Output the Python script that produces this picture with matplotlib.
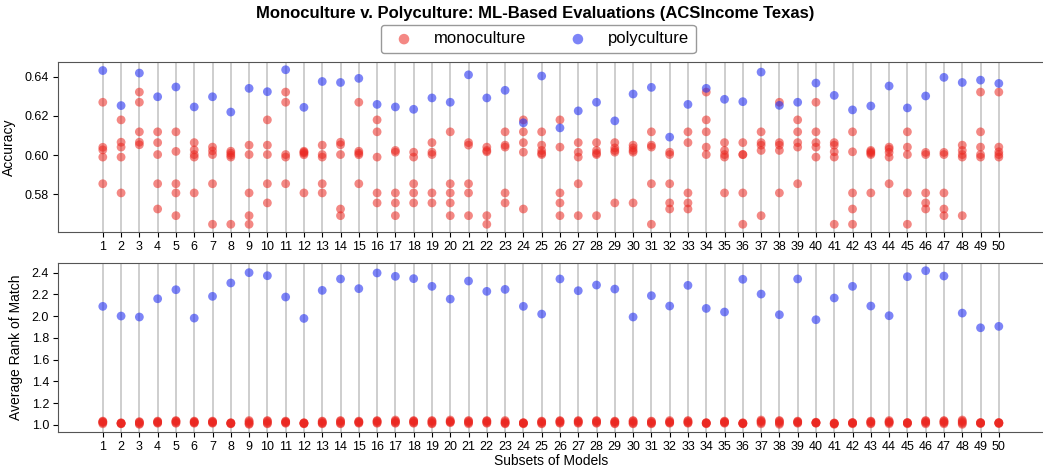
import matplotlib.pyplot as plt
import numpy as np
from matplotlib.ticker import MultipleLocator

plt.rcParams['font.family'] = ['Liberation Sans', 'DejaVu Sans']

subsets = list(range(1, 51))

# accuracy of each individual model (monoculture) per subset
mono_acc = [
    [0.627, 0.604, 0.6027, 0.599, 0.5854],
    [0.618, 0.6066, 0.6041, 0.599, 0.5807],
    [0.6322, 0.627, 0.6119, 0.6066, 0.6053],
    [0.6119, 0.6064, 0.6003, 0.5854, 0.5725],
    [0.6119, 0.6019, 0.5854, 0.5807, 0.5691],
    [0.6064, 0.6027, 0.6003, 0.599, 0.5807],
    [0.6041, 0.6022, 0.6003, 0.5854, 0.5647],
    [0.602, 0.601, 0.600, 0.599, 0.5647],
    [0.6051, 0.6003, 0.5807, 0.5691, 0.5647],
    [0.618, 0.6051, 0.6003, 0.5854, 0.5756],
    [0.6322, 0.627, 0.6003, 0.599, 0.5854],
    [0.602, 0.6015, 0.601, 0.6002, 0.5807],
    [0.6051, 0.6003, 0.599, 0.5854, 0.5807],
    [0.6066, 0.6053, 0.6003, 0.5725, 0.5691],
    [0.627, 0.602, 0.601, 0.6002, 0.5854],
    [0.618, 0.6119, 0.599, 0.5807, 0.5756],
    [0.6024, 0.6015, 0.5807, 0.5756, 0.5691],
    [0.6015, 0.599, 0.5854, 0.5807, 0.5756],
    [0.6064, 0.6015, 0.6003, 0.5807, 0.5756],
    [0.6119, 0.5854, 0.5807, 0.5756, 0.5691],
    [0.6064, 0.6051, 0.5854, 0.5807, 0.5691],
    [0.6041, 0.6024, 0.6017, 0.5691, 0.5647],
    [0.6119, 0.6051, 0.6041, 0.5807, 0.5756],
    [0.618, 0.6119, 0.6064, 0.6015, 0.5725],
    [0.6119, 0.6051, 0.6024, 0.601, 0.6003],
    [0.618, 0.6041, 0.5807, 0.5756, 0.5691],
    [0.6064, 0.6015, 0.599, 0.5854, 0.5691],
    [0.6064, 0.6024, 0.601, 0.6003, 0.5691],
    [0.6064, 0.6037, 0.6024, 0.6015, 0.5756],
    [0.6051, 0.6037, 0.6024, 0.6015, 0.5756],
    [0.6119, 0.6051, 0.6041, 0.5854, 0.5647],
    [0.6015, 0.6003, 0.5854, 0.5756, 0.5725],
    [0.6119, 0.6064, 0.5807, 0.5756, 0.5725],
    [0.6322, 0.618, 0.6119, 0.6041, 0.6003],
    [0.6064, 0.6024, 0.6003, 0.599, 0.5807],
    [0.6064, 0.6003, 0.6003, 0.5807, 0.5647],
    [0.6119, 0.6064, 0.6051, 0.6024, 0.5691],
    [0.627, 0.6064, 0.6051, 0.6024, 0.5807],
    [0.618, 0.6119, 0.6064, 0.6041, 0.5854],
    [0.627, 0.6119, 0.6064, 0.6041, 0.599],
    [0.6064, 0.6051, 0.6017, 0.599, 0.5647],
    [0.6119, 0.6017, 0.5807, 0.5725, 0.5647],
    [0.6024, 0.6017, 0.601, 0.6003, 0.5807],
    [0.6041, 0.6031, 0.6014, 0.599, 0.5854],
    [0.6119, 0.6041, 0.6003, 0.5807, 0.5647],
    [0.6014, 0.6003, 0.5807, 0.5756, 0.5725],
    [0.6014, 0.6003, 0.5807, 0.5725, 0.5691],
    [0.6051, 0.6024, 0.6003, 0.599, 0.5691],
    [0.6322, 0.6119, 0.6041, 0.6003, 0.599],
    [0.6322, 0.6041, 0.6017, 0.6003, 0.599],
]

# accuracy of the polyculture per subset
poly_acc = [0.6432, 0.6253, 0.6419, 0.6298, 0.6348, 0.6246, 0.6298, 0.6220, 0.6341, 0.6324,
            0.6436, 0.6244, 0.6376, 0.6371, 0.6392, 0.6259, 0.6246, 0.6234, 0.6292, 0.6270,
            0.6410, 0.6292, 0.6331, 0.6165, 0.6404, 0.6139, 0.6226, 0.6270, 0.6175, 0.6312,
            0.6346, 0.6092, 0.6259, 0.6341, 0.6285, 0.6273, 0.6424, 0.6254, 0.6270, 0.6368,
            0.6305, 0.6231, 0.6251, 0.6353, 0.6241, 0.6302, 0.6397, 0.6371, 0.6383, 0.6366]

# average rank of match, monoculture
mono_rank = [
    [1.01, 1.02, 1.025, 1.03, 1.035],
    [1.01, 1.012, 1.015, 1.015, 1.02],
    [1.005, 1.01, 1.02, 1.025, 1.03],
    [1.015, 1.02, 1.025, 1.03, 1.035],
    [1.015, 1.02, 1.03, 1.035, 1.04],
    [1.015, 1.02, 1.025, 1.03, 1.035],
    [1.015, 1.02, 1.025, 1.03, 1.035],
    [1.01, 1.012, 1.015, 1.018, 1.02],
    [1.005, 1.01, 1.02, 1.03, 1.04],
    [1.01, 1.015, 1.025, 1.035, 1.04],
    [1.015, 1.02, 1.025, 1.03, 1.035],
    [1.01, 1.012, 1.015, 1.018, 1.02],
    [1.01, 1.015, 1.02, 1.03, 1.035],
    [1.01, 1.015, 1.025, 1.035, 1.04],
    [1.015, 1.02, 1.025, 1.03, 1.035],
    [1.015, 1.02, 1.03, 1.035, 1.04],
    [1.015, 1.02, 1.03, 1.035, 1.045],
    [1.015, 1.02, 1.03, 1.035, 1.04],
    [1.01, 1.015, 1.025, 1.035, 1.04],
    [1.02, 1.025, 1.03, 1.035, 1.045],
    [1.01, 1.02, 1.025, 1.035, 1.04],
    [1.015, 1.02, 1.03, 1.035, 1.04],
    [1.01, 1.015, 1.02, 1.03, 1.04],
    [1.01, 1.015, 1.015, 1.02, 1.02],
    [1.01, 1.015, 1.025, 1.03, 1.035],
    [1.015, 1.02, 1.03, 1.035, 1.04],
    [1.015, 1.02, 1.03, 1.035, 1.04],
    [1.015, 1.02, 1.03, 1.035, 1.04],
    [1.01, 1.015, 1.025, 1.03, 1.035],
    [1.01, 1.015, 1.025, 1.035, 1.04],
    [1.01, 1.015, 1.02, 1.03, 1.035],
    [1.015, 1.02, 1.025, 1.03, 1.04],
    [1.015, 1.02, 1.025, 1.035, 1.04],
    [1.01, 1.015, 1.015, 1.02, 1.02],
    [1.015, 1.02, 1.025, 1.03, 1.035],
    [1.01, 1.012, 1.015, 1.015, 1.02],
    [1.01, 1.02, 1.03, 1.035, 1.045],
    [1.005, 1.015, 1.025, 1.035, 1.04],
    [1.015, 1.02, 1.025, 1.03, 1.035],
    [1.015, 1.018, 1.02, 1.022, 1.025],
    [1.005, 1.01, 1.012, 1.015, 1.018],
    [1.01, 1.015, 1.018, 1.02, 1.022],
    [1.01, 1.015, 1.025, 1.03, 1.035],
    [1.01, 1.02, 1.025, 1.03, 1.04],
    [1.01, 1.015, 1.018, 1.02, 1.022],
    [1.01, 1.02, 1.025, 1.035, 1.04],
    [1.01, 1.02, 1.025, 1.035, 1.04],
    [1.005, 1.015, 1.025, 1.035, 1.045],
    [1.012, 1.015, 1.018, 1.02, 1.022],
    [1.012, 1.015, 1.018, 1.02, 1.022],
]

# average rank of match, polyculture
poly_rank = [2.090, 2.001, 1.992, 2.160, 2.243, 1.982, 2.182, 2.305, 2.400, 2.372,
             2.176, 1.979, 2.237, 2.342, 2.253, 2.397, 2.366, 2.345, 2.274, 2.157,
             2.323, 2.228, 2.246, 2.090, 2.019, 2.342, 2.234, 2.286, 2.249, 1.992,
             2.188, 2.093, 2.283, 2.071, 2.038, 2.339, 2.203, 2.013, 2.342, 1.967,
             2.167, 2.274, 2.093, 2.004, 2.363, 2.418, 2.369, 2.028, 1.893, 1.906]

red = (0.92, 0.15, 0.12)
blue = (0.15, 0.2, 0.95)

fig = plt.figure(figsize=(10.43, 4.67), dpi=100)
ax1 = fig.add_axes([0.0556, 0.5032, 0.945, 0.364])
ax2 = fig.add_axes([0.0556, 0.0749, 0.945, 0.3619])

for ax, mono, poly, ylab in [(ax1, mono_acc, poly_acc, "Accuracy"),
                             (ax2, mono_rank, poly_rank, "Average Rank of Match")]:
    for x in subsets:
        ax.axvline(x, color='gray', alpha=0.45, lw=1.2, zorder=0)
    mx = np.repeat(subsets, [len(m) for m in mono])
    my = np.concatenate(mono)
    ax.scatter(mx, my, s=40, color=red, alpha=0.55, edgecolors='none', label="monoculture", zorder=2)
    ax.scatter(subsets, poly, s=40, color=blue, alpha=0.6, edgecolors='none', label="polyculture", zorder=3)
    ax.set_xticks(subsets)
    ax.set_xticklabels([str(s) for s in subsets])
    ax.tick_params(labelsize=9, pad=3)
    ax.set_ylabel(ylab, fontsize=10, labelpad=6)
    for sp in ax.spines.values():
        sp.set_color('#555555')

ax1.yaxis.set_major_locator(MultipleLocator(0.02))
ax2.yaxis.set_major_locator(MultipleLocator(0.2))
ax2.set_xlabel("Subsets of Models", fontsize=10, labelpad=1)

handles, labels = ax1.get_legend_handles_labels()
fig.legend(handles, labels, loc='center', bbox_to_anchor=(0.516, 0.9165), ncol=2,
           fontsize=12, columnspacing=2.1, markerscale=1.2, fancybox=True, edgecolor='gray')
fig.suptitle("Monoculture v. Polyculture: ML-Based Evaluations (ACSIncome Texas)",
             fontsize=12, fontweight='bold', x=0.513, y=0.987, va='top')

fig.savefig("out.png", dpi=100)
